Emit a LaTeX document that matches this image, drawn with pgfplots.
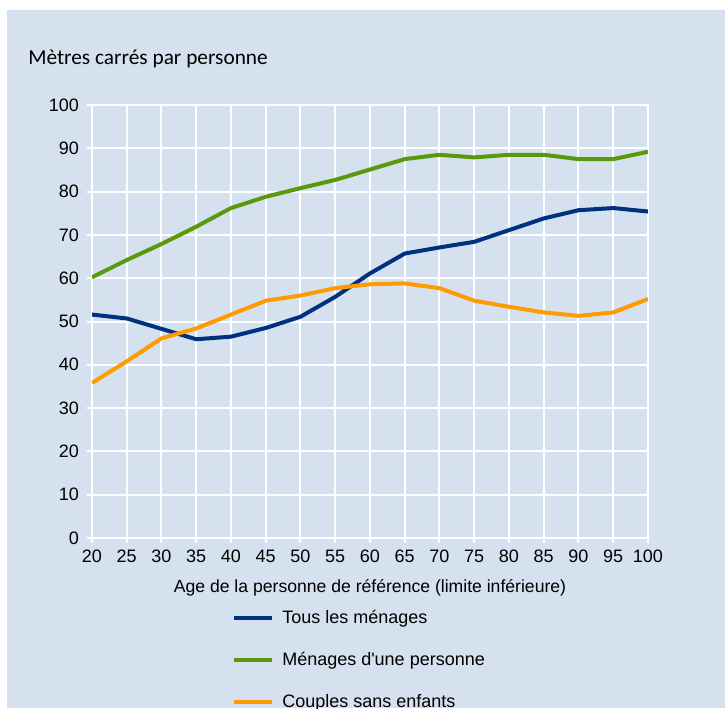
\documentclass[border=0pt]{standalone}
\usepackage{pgfplots}
\pgfplotsset{compat=1.18}
\usepackage{fontspec}
\setmainfont{Liberation Sans}
\newfontfamily\titlefont{Carlito}
\newfontfamily\plainfont{Liberation Sans}[Ligatures=TeXOff]
\definecolor{bgblue}{HTML}{D5E1EE}
\definecolor{navy}{HTML}{00317E}
\definecolor{leaf}{HTML}{5B990C}
\definecolor{amber}{HTML}{FF9B00}

\pgfplotstableread{
age tous une couples
20 51.6 60.2 35.8
25 50.7 64.2 40.8
30 48.3 67.9 46.1
35 45.9 71.9 48.4
40 46.5 76.2 51.6
45 48.5 78.8 54.8
50 51.1 80.8 56.0
55 55.7 82.7 57.7
60 61.1 85.1 58.6
65 65.7 87.5 58.8
70 67.1 88.5 57.7
75 68.4 87.9 54.8
80 71.1 88.5 53.4
85 73.8 88.5 52.1
90 75.7 87.5 51.3
95 76.2 87.5 52.1
100 75.4 89.2 55.2
}\datatable

\begin{document}
\begin{tikzpicture}
\useasboundingbox (0,0) rectangle (543.75pt,531pt);
\fill[white] (0,0) rectangle (543.75pt,531pt);
\fill[bgblue] (5.25pt,0) rectangle (543.75pt,523.5pt);
\node[anchor=base west, inner sep=0pt, font=\titlefont\fontsize{16}{19}\selectfont] at (21pt,482.8pt) {Mètres carrés par personne};
\begin{axis}[
  at={(69pt,127.5pt)}, anchor=south west,
  scale only axis, width=417pt, height=324.75pt,
  xmin=20, xmax=100, ymin=0, ymax=100,
  xtick={20,25,...,100}, ytick={0,10,...,100},
  grid=major,
  grid style={white, line width=1.5pt},
  axis line style={white, line width=1.5pt},
  tick style={white, line width=1.5pt},
  tick align=outside, major tick length=3.75pt,
  tick pos=left,
  /pgf/number format/assume math mode=true,
  tick label style={font=\fontsize{13.5}{15}\selectfont, black},
  xticklabel style={yshift=-2pt},
  yticklabel style={xshift=-2.5pt},
  xlabel={Age de la personne de référence (limite inférieure)},
  xlabel style={at={(axis description cs:0.5,0)}, anchor=base, yshift=-41pt, font=\fontsize{13.2}{15}\selectfont},
  legend style={at={(rel axis cs:0.2518,-0.165)}, anchor=north west, draw=none, fill=none,
    inner sep=0pt, row sep=18.5pt, font=\plainfont\fontsize{13.5}{15}\selectfont,
    nodes={inner sep=0pt, text height=10pt, text depth=3pt}},
  legend cell align=left,
  legend image code/.code={\draw[#1, line width=3pt] (0pt,0pt) -- (28.5pt,0pt);},
  legend style={column sep=0pt, /tikz/every odd column/.style={column sep=6pt}},
  every axis plot/.append style={line width=3pt},
]
\addplot[navy] table[x=age,y=tous] {\datatable};
\addplot[leaf] table[x=age,y=une] {\datatable};
\addplot[amber] table[x=age,y=couples] {\datatable};
\legend{Tous les ménages, Ménages d'une personne, Couples sans enfants}
\end{axis}
\end{tikzpicture}
\end{document}
